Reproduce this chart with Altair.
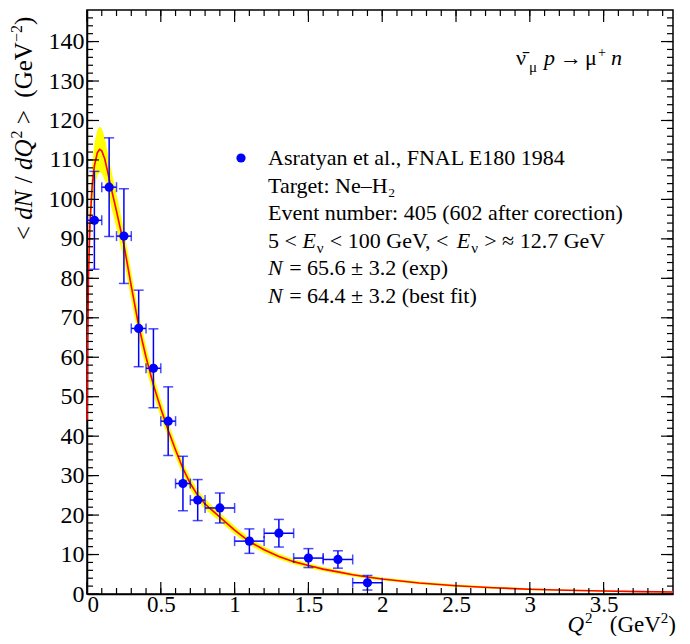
import altair as alt
import pandas as pd

# ---------------- data ----------------
q2 = [0.05, 0.15, 0.25, 0.35, 0.45, 0.55, 0.65, 0.75, 0.90, 1.10, 1.30, 1.50, 1.70, 1.90]
dndq2 = [94.7, 103.1, 90.7, 67.3, 57.2, 43.8, 28.0, 23.8, 21.8, 13.4, 15.4, 9.1, 8.75, 2.85]
y_err = [12.4, 12.5, 12.0, 9.7, 10.0, 8.7, 6.9, 5.2, 3.8, 3.1, 3.5, 2.4, 2.2, 1.85]
x_err = [0.05, 0.05, 0.05, 0.05, 0.05, 0.05, 0.05, 0.05, 0.10, 0.10, 0.10, 0.10, 0.10, 0.10]

curve_x = [0.001, 0.004, 0.01, 0.02, 0.035, 0.05, 0.07, 0.085, 0.10, 0.12, 0.14, 0.16, 0.20, 0.25,
           0.30, 0.35, 0.40, 0.45, 0.50, 0.55, 0.60, 0.65, 0.70, 0.75, 0.80, 0.90, 1.00,
           1.10, 1.20, 1.30, 1.40, 1.50, 1.60, 1.70, 1.80, 1.90, 2.00, 2.25, 2.50, 2.75,
           3.00, 3.25, 3.50, 3.75, 3.97]
curve_y = [44, 62, 80, 94, 103.5, 108.5, 111.8, 112.7, 112.3, 110.3, 107, 103.5, 97, 88.5,
           78, 68, 60, 53, 47, 41.5, 36.5, 31.8, 28, 25, 22.8, 19.5, 16.2,
           13.3, 11.2, 9.5, 8.2, 7.2, 6.3, 5.6, 4.9, 4.3, 3.8, 2.8, 2.1, 1.6,
           1.2, 0.95, 0.75, 0.6, 0.5]
curve_band = [1.5, 2.5, 3.5, 4.5, 5.2, 5.6, 5.8, 5.8, 5.7, 5.4, 5.0, 4.7, 4.3, 3.9,
              3.5, 3.1, 2.8, 2.5, 2.2, 2.0, 1.8, 1.6, 1.5, 1.4, 1.3, 1.1, 1.0,
              0.9, 0.8, 0.7, 0.65, 0.6, 0.55, 0.5, 0.45, 0.42, 0.4, 0.35, 0.3, 0.27,
              0.24, 0.22, 0.2, 0.18, 0.17]

x_major = [0, 0.5, 1, 1.5, 2, 2.5, 3, 3.5]
x_minor = [round(0.1 * i, 1) for i in range(1, 40)]
y_major = [0, 10, 20, 30, 40, 50, 60, 70, 80, 90, 100, 110, 120, 130, 140]
y_minor = [2 * i for i in range(1, 74)]

legend_plain = [
    "Asratyan et al., FNAL E180 1984",
    "Target: Ne\u2013H\u2082",
    "Event number: 405 (602 after corection)",
]
n_exp = " = 65.6 \u00b1 3.2 (exp)"
n_fit = " = 64.4 \u00b1 3.2 (best fit)"

# ---------------- tables ----------------
pts = pd.DataFrame({"x": q2, "y": dndq2, "ey": y_err, "ex": x_err})
pts["ylo"] = pts["y"] - pts["ey"]
pts["yhi"] = pts["y"] + pts["ey"]
pts["xlo"] = pts["x"] - pts["ex"]
pts["xhi"] = pts["x"] + pts["ex"]

ycaps = pd.concat([pts[["x"]].assign(y=pts["ylo"]), pts[["x"]].assign(y=pts["yhi"])])
xcaps = pd.concat([pts[["y"]].assign(x=pts["xlo"]), pts[["y"]].assign(x=pts["xhi"])])

cur = pd.DataFrame({"x": curve_x, "y": curve_y, "b": curve_band})
cur["lo"] = cur["y"] - cur["b"]
cur["hi"] = cur["y"] + cur["b"]

W, H = 586, 584
FONT = "Liberation Serif"
BLUE = "#0000ff"

# Times / Liberation Serif advance widths (per 1000 em) for text layout
ADV = {" ": 250, "<": 564, ">": 564, "=": 564, "\u00b1": 564, "\u2248": 549, ".": 250,
       ",": 250, "(": 333, ")": 333, "/": 278, "G": 722, "e": 444, "V": 722,
       "N": 667, "E": 611, "d": 500, "Q": 722, "\u2212": 564, "\u03bd": 500}


def adv(s, size):
    return sum(ADV.get(c, 500) for c in s) * size / 1000.0


def lead(s, size):
    return adv(" " * (len(s) - len(s.lstrip(" "))), size)


xscale = alt.Scale(domain=[0, 3.97], nice=False, zero=False)
yscale = alt.Scale(domain=[0, 148], nice=False, zero=False)
xaxis = alt.Axis(values=x_major, labelExpr="datum.value", title=None, labelPadding=-1,
                 labelFontSize=23)
yaxis = alt.Axis(values=y_major, labelExpr="datum.value", title=None, labelPadding=3)


def X(f):
    return alt.X(f"{f}:Q", scale=xscale, axis=xaxis)


def Y(f):
    return alt.Y(f"{f}:Q", scale=yscale, axis=yaxis)


band = alt.Chart(cur).mark_area(color="#ffff00", opacity=1).encode(x=X("x"), y=Y("lo"), y2="hi:Q")
line = alt.Chart(cur).mark_line(color="#ff0000", strokeWidth=1.6).encode(x=X("x"), y=Y("y"))

ebar_y = alt.Chart(pts).mark_rule(color=BLUE, strokeWidth=1.5).encode(x=X("x"), y=Y("ylo"), y2="yhi:Q")
ebar_x = alt.Chart(pts).mark_rule(color=BLUE, strokeWidth=1.5).encode(x=X("xlo"), x2="xhi:Q", y=Y("y"))
cap_y = alt.Chart(ycaps).mark_tick(color=BLUE, orient="horizontal", size=10, thickness=1.5).encode(x=X("x"), y=Y("y"))
cap_x = alt.Chart(xcaps).mark_tick(color=BLUE, orient="vertical", size=10, thickness=1.5).encode(x=X("x"), y=Y("y"))
dots = alt.Chart(pts).mark_circle(color=BLUE, size=85, opacity=1).encode(x=X("x"), y=Y("y"))

# inward ticks on all four sides
xmaj = pd.DataFrame({"x": x_major})
xmin = pd.DataFrame({"x": x_minor})
ymaj = pd.DataFrame({"y": y_major})
ymin = pd.DataFrame({"y": y_minor})
tick_layers = []
for df, ln in ((xmaj, 12), (xmin, 6)):
    tick_layers.append(alt.Chart(df).mark_rule(color="black", strokeWidth=1.2).encode(
        x=X("x"), y=alt.value(H), y2=alt.value(H - ln)))
    tick_layers.append(alt.Chart(df).mark_rule(color="black", strokeWidth=1.2).encode(
        x=X("x"), y=alt.value(0), y2=alt.value(ln)))
for df, ln in ((ymaj, 12), (ymin, 6)):
    tick_layers.append(alt.Chart(df).mark_rule(color="black", strokeWidth=1.2).encode(
        y=Y("y"), x=alt.value(0), x2=alt.value(ln)))
    tick_layers.append(alt.Chart(df).mark_rule(color="black", strokeWidth=1.2).encode(
        y=Y("y"), x=alt.value(W), x2=alt.value(W - ln)))

one = pd.DataFrame({"k": [0]})


def txt(s, x, y, size=22, style="normal", angle=0):
    return alt.Chart(one).mark_text(text=s.strip(" "), font=FONT, fontSize=size, align="left",
                                    baseline="alphabetic", color="black", fontStyle=style,
                                    angle=angle).encode(x=alt.value(x), y=alt.value(y))


def run(parts, x0, y0, angle=0):
    """Lay out (text, style, size, offset) pieces along a line."""
    out = []
    p = 0.0
    for s, st, sz, off in parts:
        p_eff = p + lead(s, sz)
        if angle == 0:
            out.append(txt(s, x0 + p_eff, y0 + off, sz, st))
        else:
            out.append(txt(s, x0 + off, y0 - p_eff, sz, st, angle=270))
        p += adv(s, sz) + (1 if st == "italic" else 0)
    return out, p


# ---- legend ----
LS = 22
LX = 181
leg = [alt.Chart(one).mark_circle(color=BLUE, size=85, opacity=1).encode(
    x=alt.value(154), y=alt.value(148))]
base = [155 + i * 27.6 for i in range(6)]
for i, s in enumerate(legend_plain):
    leg.append(txt(s, LX, base[i], LS))
segs = [("5 < ", "normal", LS, 0), ("E", "italic", LS, 0), ("\u03bd", "normal", 15, 5),
        (" < 100 GeV, < ", "normal", LS, 0), ("E", "italic", LS, 0), ("\u03bd", "normal", 15, 5),
        (" > \u2248 12.7 GeV", "normal", LS, 0)]
leg += run(segs, LX, base[3])[0]
for i, rest in ((4, n_exp), (5, n_fit)):
    leg += run([("N", "italic", LS, 0), (rest, "normal", LS, 0)], LX, base[i])[0]

# ---- reaction label ----
reaction = [
    txt("\u03bd\u0304", 429, 55),
    txt("\u03bc", 442, 62, 15),
    txt("p", 457, 55, 22, "italic"),
    txt("\u2192", 473, 55),
    txt("\u03bc", 498, 55),
    txt("+", 511, 47, 14),
    txt("n", 524, 55, 22, "italic"),
]

# ---- y title (rotated, reading upward) ----
TS, SS = 25, 16
ty_parts = [("< ", "normal", TS, 0), ("dN", "italic", TS, 0), (" / ", "normal", TS, 0),
            ("dQ", "italic", TS, 0), ("2", "normal", SS, -10), (" >", "normal", TS, 0),
            ("  (GeV", "normal", TS, 0),
            ("\u22122", "normal", SS, -10), (")", "normal", TS, 0)]
ytitle = run(ty_parts, -55, 230, angle=270)[0]

# ---- x title ----
XS, XSS = 23, 15
tx_parts = [("Q", "italic", XS, 0), ("2", "normal", XSS, -9), ("   (GeV", "normal", XS, 0),
            ("2", "normal", XSS, -9), (")", "normal", XS, 0)]
total = sum(adv(s, sz) + (1 if st == "italic" else 0) for s, st, sz, _ in tx_parts)
xt = run(tx_parts, 589 - total, 621.5)[0]

chart = alt.layer(band, line, ebar_y, ebar_x, cap_y, cap_x, dots, *tick_layers,
                  *leg, *reaction, *ytitle, *xt).properties(
    width=W, height=H,
    autosize=alt.AutoSizeParams(type="none"),
    padding={"left": 79, "top": 2, "right": 9, "bottom": 42},
).configure_view(stroke="black", strokeWidth=1.5).configure_axis(
    grid=False, ticks=False, domainColor="black", domainWidth=1.5,
    labelFont=FONT, labelFontSize=24, labelColor="black",
)

chart.save("out.html", embed_options={"renderer": "svg", "actions": False})
